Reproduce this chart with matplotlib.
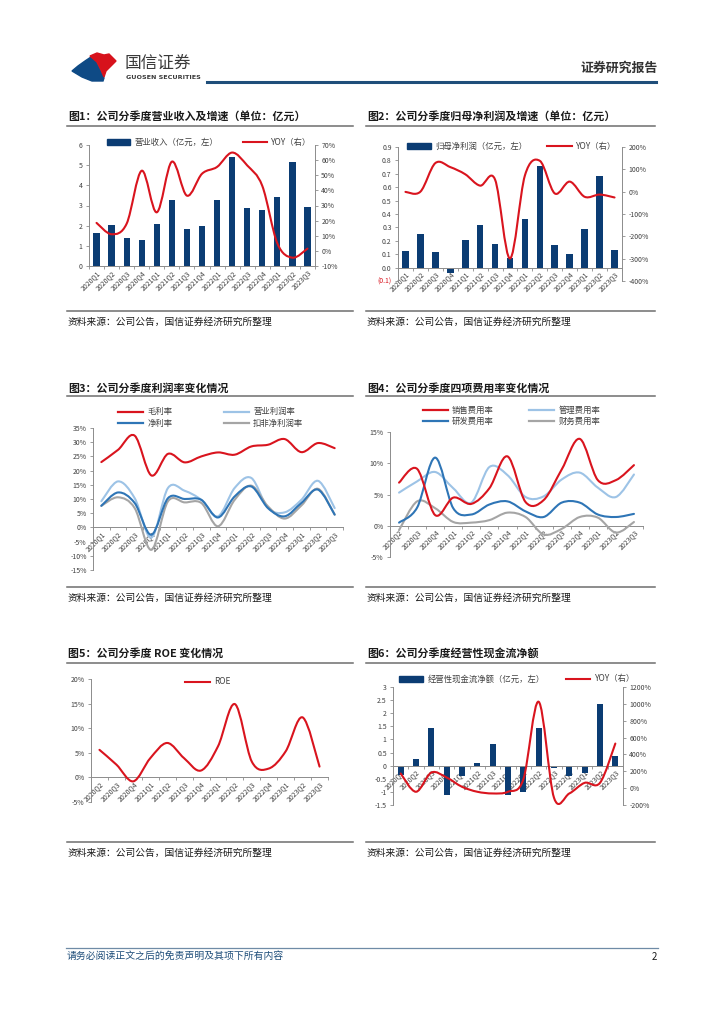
import numpy as np
import matplotlib
matplotlib.use('Agg')
import matplotlib.pyplot as plt
from matplotlib.path import Path
from matplotlib.patches import PathPatch, Polygon, Patch
from matplotlib.lines import Line2D

plt.rcParams['font.family'] = ['Noto Sans CJK SC', 'DejaVu Sans']
plt.rcParams['axes.unicode_minus'] = False

W, H = 724, 1024

# quarters
q15 = ['2020Q1', '2020Q2', '2020Q3', '2020Q4', '2021Q1', '2021Q2', '2021Q3', '2021Q4',
       '2022Q1', '2022Q2', '2022Q3', '2022Q4', '2023Q1', '2023Q2', '2023Q3']
q14 = q15[1:]

# fig1 revenue (亿元) and yoy (%)
rev = [1.65, 2.05, 1.37, 1.30, 2.07, 3.27, 1.85, 1.97, 3.27, 5.42, 2.90, 2.77, 3.42, 5.17, 2.92]
rev_yoy = [18.5, 11, 18, 53, 25.5, 59, 36.5, 51, 55.5, 65, 56.5, 43, 5, -4.5, 1.5]

# fig2 net profit (亿元) and yoy (%)
prof = [0.122, 0.254, 0.117, -0.037, 0.209, 0.321, 0.179, 0.072, 0.361, 0.761, 0.167, 0.10, 0.286, 0.68, 0.129]
prof_yoy = [-1, 0, 128, 110, 78, 27, 54, -299, 73, 138, -8, 45, -23, -13, -26]

# fig3 margins (%)
gross = [23.0, 27.3, 32.3, 18.3, 25.9, 22.9, 25.0, 26.4, 25.6, 28.5, 29.1, 31.1, 26.5, 29.7, 27.9]
opm = [9.2, 16.2, 10.3, -3.6, 13.9, 12.9, 9.7, 3.9, 13.9, 17.4, 6.8, 5.3, 9.7, 16.4, 6.8]
netm = [7.6, 12.3, 8.6, -2.6, 10.3, 10.0, 9.7, 3.5, 10.9, 14.4, 6.8, 3.9, 8.6, 13.3, 4.5]
adjm = [7.6, 10.6, 6.8, -7.9, 9.2, 8.8, 8.6, 0.4, 9.7, 14.7, 7.4, 3.1, 7.7, 13.6, 4.5]

# fig4 expense ratios (%)
sell = [6.9, 9.1, 1.7, 4.5, 3.5, 6.0, 11.1, 3.8, 4.1, 9.0, 13.9, 7.3, 7.3, 9.7]
admin = [5.3, 7.1, 8.6, 6.0, 3.7, 9.4, 8.1, 4.6, 4.7, 7.4, 8.5, 6.1, 4.6, 8.2]
rnd = [0.5, 2.9, 10.9, 2.8, 1.8, 3.4, 3.9, 2.3, 1.4, 3.7, 3.7, 1.8, 1.4, 1.9]
fin = [-0.7, 3.9, 2.8, 0.6, 0.5, 0.9, 2.1, 1.4, -1.4, -0.5, 1.4, 1.3, -1.1, 0.6]

# fig5 ROE (%)
roe = [5.6, 2.6, -0.8, 3.9, 7.0, 3.9, 1.4, 6.3, 14.9, 3.2, 1.8, 5.3, 12.2, 2.2]

# fig6 operating cash flow (亿元) and yoy (%)
ocf = [-0.36, 0.25, 1.42, -1.12, -0.38, 0.12, 0.81, -1.12, -1.0, 1.42, -0.1, -0.38, -0.27, 2.34, 0.36]
ocf_yoy = [174, -43, 185, 126, 16, -43, -63, -43, 103, 1025, -114, -63, 63, 63, 529]

BAR = '#0B3C73'
RED = '#D9141E'
LBLUE = '#9DC3E6'
BLUE = '#2E75B6'
GRAY = '#A5A5A5'
AX = '#8C8C8C'
TXT = '#404040'
FS = 5


def fx(x):
    return x / W


def fy(y):
    return 1 - y / H


def rect(x0, y0, x1, y1):
    return [x0 / W, 1 - y1 / H, (x1 - x0) / W, (y1 - y0) / H]


def smooth(ax, ys, color, lw=1.5, z=3):
    # excel style smoothed line: bezier through the points
    pts = np.column_stack([np.arange(len(ys)), ys]).astype(float)
    n = len(pts)
    verts = [pts[0]]
    codes = [Path.MOVETO]
    for i in range(n - 1):
        p0 = pts[i - 1] if i > 0 else pts[i]
        p1 = pts[i]
        p2 = pts[i + 1]
        p3 = pts[i + 2] if i + 2 < n else pts[i + 1]
        verts += [p1 + (p2 - p0) / 6, p2 - (p3 - p1) / 6, p2]
        codes += [Path.CURVE4] * 3
    ax.add_patch(PathPatch(Path(verts, codes), fill=False, edgecolor=color, lw=lw,
                           capstyle='round', joinstyle='round', zorder=z))


def base(ax, n, labels, zero=False):
    for s in ['top', 'right']:
        ax.spines[s].set_visible(False)
    for s in ['left', 'bottom']:
        ax.spines[s].set_color(AX)
        ax.spines[s].set_linewidth(0.7)
    # spine position first, it resets the ticks
    if zero:
        ax.spines['bottom'].set_position(('data', 0))
    ax.set_xlim(-0.5, n - 0.5)
    ax.set_xticks(np.arange(n))
    ax.set_xticklabels(labels, rotation=45, ha='right', va='top', rotation_mode='anchor')
    ax.set_xticks(np.arange(n + 1) - 0.5, minor=True)
    ax.tick_params(axis='x', which='major', length=0, pad=2, labelsize=FS, labelcolor=TXT)
    ax.tick_params(axis='x', which='minor', length=2.5, width=0.6, color=AX)
    ax.tick_params(axis='y', length=2.5, width=0.6, color=AX, labelsize=FS, labelcolor=TXT, pad=2)
    ax.set_facecolor('none')


def right_axis(ax, lo, hi, step):
    a2 = ax.twinx()
    a2.set_ylim(lo, hi)
    a2.set_yticks(np.arange(lo, hi + 1, step))
    a2.set_yticklabels([f'{int(v)}%' for v in np.arange(lo, hi + 1, step)])
    a2.tick_params(axis='y', length=2.5, width=0.6, color=AX, labelsize=FS, labelcolor=TXT, pad=2)
    for s in ['top', 'left', 'bottom']:
        a2.spines[s].set_visible(False)
    a2.spines['right'].set_color(AX)
    a2.spines['right'].set_linewidth(0.7)
    return a2


def legend(ax, handles, labels, x, y, ncol, hl, cs):
    ax.legend(handles, labels, loc='center left', bbox_to_anchor=(fx(x), fy(y)),
              bbox_transform=fig.transFigure, ncol=ncol, frameon=False, fontsize=6,
              handlelength=hl, columnspacing=cs, borderpad=0, borderaxespad=0,
              handletextpad=0.5, labelspacing=0.25, labelcolor=TXT)


def frame(x0, x1, ytitle, yline, ysrc, title):
    fig.text(fx(x0 + 1), fy(ytitle), title, fontsize=7.9, fontweight='bold', color='#1a1a1a',
             va='center', ha='left')
    fig.add_artist(Line2D([fx(x0), fx(x1)], [fy(yline)] * 2, color='#6d6d6d', lw=1.1))
    fig.add_artist(Line2D([fx(x0), fx(x1)], [fy(ysrc)] * 2, color='#6d6d6d', lw=1.1))
    fig.text(fx(x0 + 1), fy(ysrc + 11), '资料来源：公司公告，国信证券经济研究所整理', fontsize=7,
             color='#1a1a1a', va='center', ha='left')


fig = plt.figure(figsize=(7.24, 10.24), dpi=100)

# header logo
fig.add_artist(Polygon([(fx(x), fy(y)) for x, y in
                        [(72, 71), (78, 66), (85, 61), (91, 57), (95, 60), (98, 66), (101, 72),
                         (104, 78), (103, 81), (92, 81), (82, 77)]],
                       closed=True, color='#0E4A85', transform=fig.transFigure))
fig.add_artist(Polygon([(fx(x), fy(y)) for x, y in
                        [(90, 56), (97, 53), (104, 55), (109, 54), (116, 61), (111, 66), (106, 71),
                         (104, 77), (101, 70), (97, 62)]],
                       closed=True, color='#D7121C', transform=fig.transFigure))
fig.text(fx(125), fy(63), '国信证券', fontsize=12, color='#3a3a3a', va='center', ha='left')
fig.text(fx(126), fy(77.5), 'GUOSEN SECURITIES', fontsize=4.6, fontweight='bold', color='#3a3a3a',
         va='center', ha='left', family='DejaVu Sans')
fig.text(fx(658), fy(68), '证券研究报告', fontsize=9.3, fontweight='bold', color='#333333',
         va='center', ha='right')
fig.add_artist(Line2D([fx(207), fx(656)], [fy(82)] * 2, color='#1F4E7A', lw=2.2))

# footer
fig.add_artist(Line2D([fx(66), fx(658)], [fy(948)] * 2, color='#6F8BA6', lw=0.9))
fig.text(fx(67), fy(956), '请务必阅读正文之后的免责声明及其项下所有内容', fontsize=7.1, style='italic',
         color='#1F4E7A', va='center', ha='left')
fig.text(fx(657), fy(957), '2', fontsize=7, color='#1a1a1a', va='center', ha='right')

# titles / source
frame(67, 353, 116, 126, 311, '图1：公司分季度营业收入及增速（单位：亿元）')
frame(366, 655, 116, 126, 311, '图2：公司分季度归母净利润及增速（单位：亿元）')
frame(67, 353, 388, 396, 587, '图3：公司分季度利润率变化情况')
frame(366, 655, 388, 396, 587, '图4：公司分季度四项费用率变化情况')
frame(67, 353, 653, 663, 842, '图5：公司分季度 ROE 变化情况')
frame(366, 655, 653, 663, 842, '图6：公司分季度经营性现金流净额')

# fig1
ax = fig.add_axes(rect(89, 145, 315, 266))
base(ax, 15, q15)
x = np.arange(15)
ax.bar(x, rev, 0.42, color=BAR, zorder=2)
ax.set_ylim(0, 6)
ax.set_yticks(range(7))
a2 = right_axis(ax, -10, 70, 10)
smooth(a2, rev_yoy, RED)
legend(a2, [Patch(color=BAR), Line2D([], [], color=RED, lw=1.5)],
       ['营业收入（亿元，左）', 'YOY（右）'], 107, 142, 2, 2.8, 3.0)

# fig2
ax = fig.add_axes(rect(398, 147, 622, 281))
base(ax, 15, q15, zero=True)
ax.bar(x, prof, 0.45, color=BAR, zorder=2)
ax.set_ylim(-0.1, 0.9)
yt = np.round(np.arange(-0.1, 0.91, 0.1), 1)
ax.set_yticks(yt)
ax.set_yticklabels(['(0.1)'] + [f'{v:.1f}' for v in yt[1:]])
ax.get_yticklabels()[0].set_color(RED)
a2 = right_axis(ax, -400, 200, 100)
smooth(a2, prof_yoy, RED)
legend(a2, [Patch(color=BAR), Line2D([], [], color=RED, lw=1.5)],
       ['归母净利润（亿元，左）', 'YOY（右）'], 407, 146, 2, 2.9, 2.4)

# fig3
ax = fig.add_axes(rect(93, 428, 343, 570))
base(ax, 15, q15, zero=True)
ax.set_ylim(-15, 35)
ax.set_yticks(range(-15, 36, 5))
ax.set_yticklabels([f'{v}%' for v in range(-15, 36, 5)])
smooth(ax, opm, LBLUE)
smooth(ax, adjm, GRAY)
smooth(ax, netm, BLUE)
smooth(ax, gross, RED)
legend(ax, [Line2D([], [], color=c, lw=1.6) for c in [RED, BLUE, LBLUE, GRAY]],
       ['毛利率', '净利率', '营业利润率', '扣非净利润率'], 118, 417.5, 2, 3.0, 6.2)

# fig4
ax = fig.add_axes(rect(390, 432, 643, 557))
base(ax, 14, q14, zero=True)
ax.set_ylim(-5, 15)
ax.set_yticks(range(-5, 16, 5))
ax.set_yticklabels([f'{v}%' for v in range(-5, 16, 5)])
smooth(ax, fin, GRAY)
smooth(ax, admin, LBLUE)
smooth(ax, rnd, BLUE)
smooth(ax, sell, RED)
legend(ax, [Line2D([], [], color=c, lw=1.6) for c in [RED, BLUE, LBLUE, GRAY]],
       ['销售费用率', '研发费用率', '管理费用率', '财务费用率'], 423, 416, 2, 3.0, 4.2)

# fig5
ax = fig.add_axes(rect(91, 679, 328, 802))
base(ax, 14, q14, zero=True)
ax.set_ylim(-5, 20)
ax.set_yticks(range(-5, 21, 5))
ax.set_yticklabels([f'{v}%' for v in range(-5, 21, 5)])
smooth(ax, roe, RED)
legend(ax, [Line2D([], [], color=RED, lw=1.5)], ['ROE'], 185, 682, 1, 3.0, 1)

# fig6
ax = fig.add_axes(rect(393, 687, 623, 805))
base(ax, 15, q15, zero=True)
ax.bar(x, ocf, 0.4, color=BAR, zorder=2)
ax.set_ylim(-1.5, 3)
yt = np.arange(-1.5, 3.01, 0.5)
ax.set_yticks(yt)
ax.set_yticklabels([f'{v:g}' for v in yt])
a2 = right_axis(ax, -200, 1200, 200)
smooth(a2, ocf_yoy, RED)
legend(a2, [Patch(color=BAR), Line2D([], [], color=RED, lw=1.5)],
       ['经营性现金流净额（亿元，左）', 'YOY（右）'], 399, 679, 2, 2.9, 2.6)

fig.savefig('out.png', dpi=100, facecolor='white')
